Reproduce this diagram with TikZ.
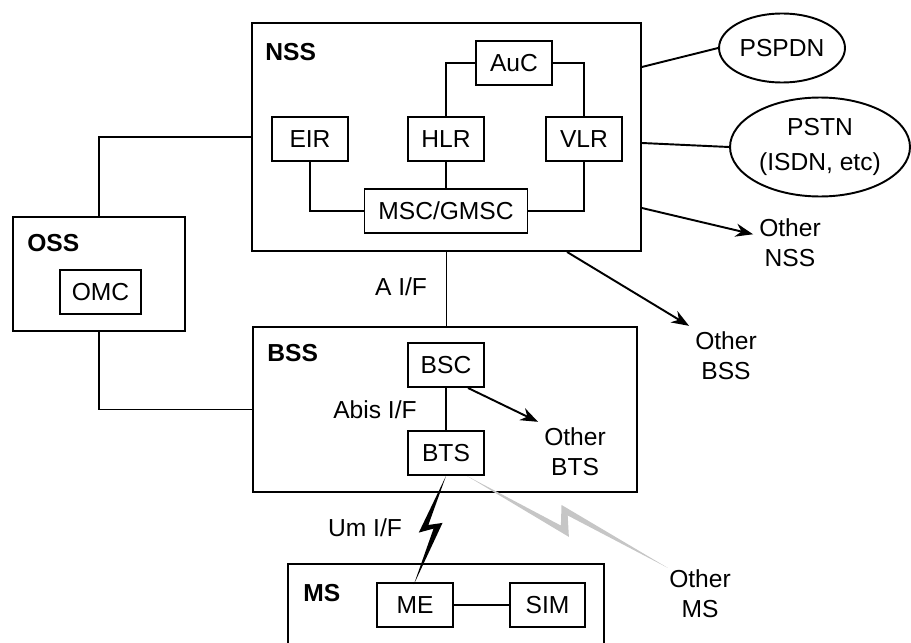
\documentclass[tikz,border=0pt]{standalone}
\usepackage{fontspec}
\setmainfont{Liberation Sans}
\usetikzlibrary{shapes,arrows,arrows.meta}
\tikzset{
	frame/.style  = {draw, rectangle, line width=1.1pt},
	unit/.style   = {draw, rectangle, line width=1.1pt, minimum width=1.52cm,
		minimum height=0.88cm, inner sep=0pt},
	extnet/.style = {draw, ellipse, line width=1.1pt, inner sep=0pt, align=center},
	title/.style  = {font=\fontsize{14}{17}\selectfont\bfseries, anchor=west, inner sep=0pt},
	other/.style  = {align=center},
	link/.style   = {line width=1.1pt}
}

\begin{document}
\begin{tikzpicture}[x=0.02cm, y=-0.02cm, >={Stealth[length=10pt,width=7.5pt]},
	font=\fontsize{14}{17}\selectfont]
	\path[use as bounding box, clip] (0,0) rectangle (911,642);
	
	\draw
	% Network switching subsystem
	node at (446.5,137) [frame, minimum width=7.78cm, minimum height=4.56cm] (nss) {}
	node at (265,52) [title] {NSS}
	node at (514,63) [unit] (auc) {AuC}
	node at (310,139) [unit] (eir) {EIR}
	node at (446,139) [unit] (hlr) {HLR}
	node at (584,139) [unit] (vlr) {VLR}
	node at (446,211) [unit, minimum width=3.26cm] (msc) {MSC/GMSC}
	% Operation subsystem
	node at (99,274) [frame, minimum width=3.44cm, minimum height=2.28cm] (oss) {}
	node at (27,243) [title] {OSS}
	node at (100.5,292) [unit, minimum width=1.62cm] (omc) {OMC}
	% Base station subsystem
	node at (445,409.5) [frame, minimum width=7.68cm, minimum height=3.3cm] (bss) {}
	node at (267,353) [title] {BSS}
	node at (446,365) [unit] (bsc) {BSC}
	node at (446,453) [unit] (bts) {BTS}
	% Mobile station
	node at (446,627) [frame, minimum width=6.32cm, minimum height=2.52cm] (ms) {}
	node at (303,593) [title] {MS}
	node at (415,605) [unit] (me) {ME}
	node at (547.5,605) [unit, minimum width=1.5cm] (sim) {SIM};
	
	\draw
	node at (782,48) [extnet, minimum width=2.52cm, minimum height=1.38cm] (pspdn) {PSPDN}
	node at (820,147) [extnet, minimum width=3.6cm, minimum height=1.98cm] (pstn) {PSTN\\[3pt](ISDN, etc)}
	node at (790,243) [other] (othernss) {Other\\NSS}
	node at (726,356) [other] (otherbss) {Other\\BSS}
	node at (575,452) [other] (otherbts) {Other\\BTS}
	node at (700,594) [other] (otherms) {Other\\MS}
	node at (401,287) (aif) {A I/F}
	node at (375,410) (abisif) {Abis I/F}
	node at (365,528) (umif) {Um I/F};
	
	% inside NSS
	\draw[link] (auc.west) -| (hlr.north);
	\draw[link] (auc.east) -| (vlr.north);
	\draw[link] (eir.south) |- (msc.west);
	\draw[link] (vlr.south) |- (msc.east);
	\draw[link] (hlr) -- (msc);
	
	% between subsystems
	\draw[link] (oss.north) |- (nss.west);
	\draw[link] (oss.south) |- (bss.west);
	\draw[link] (nss.south) -- (nss.south |- bss.north);
	\draw[link] (bsc) -- (bts);
	\draw[link] (me) -- (sim);
	
	% to the outside
	\draw[link] (nss.east |- 0,67) -- (pspdn.west);
	\draw[link] (nss.east |- 0,143) -- (pstn.west);
	\draw[link,->] (nss.east |- 0,208) -- (othernss);
	\draw[link,->] (nss.south -| 567,0) -- (otherbss.north west);
	\draw[link,->] (bsc.south -| 468,0) -- (otherbts.north west);
	
	% radio links
	\begin{scope}[shift={(bts.south)}, rotate=-16.5]
		\fill (0,0) -- (-10,62) -- (3,54) -- (0,113) -- (10,46) -- (-3,52) -- cycle;
	\end{scope}
	\begin{scope}[shift={(bts.south -| 467,0)}, rotate=65.4]
		\fill[gray!45] (0,0) -- (-13,118) -- (6,108) -- (0,221) -- (13,98) -- (-6,106) -- cycle;
	\end{scope}
	
\end{tikzpicture}
\end{document}
